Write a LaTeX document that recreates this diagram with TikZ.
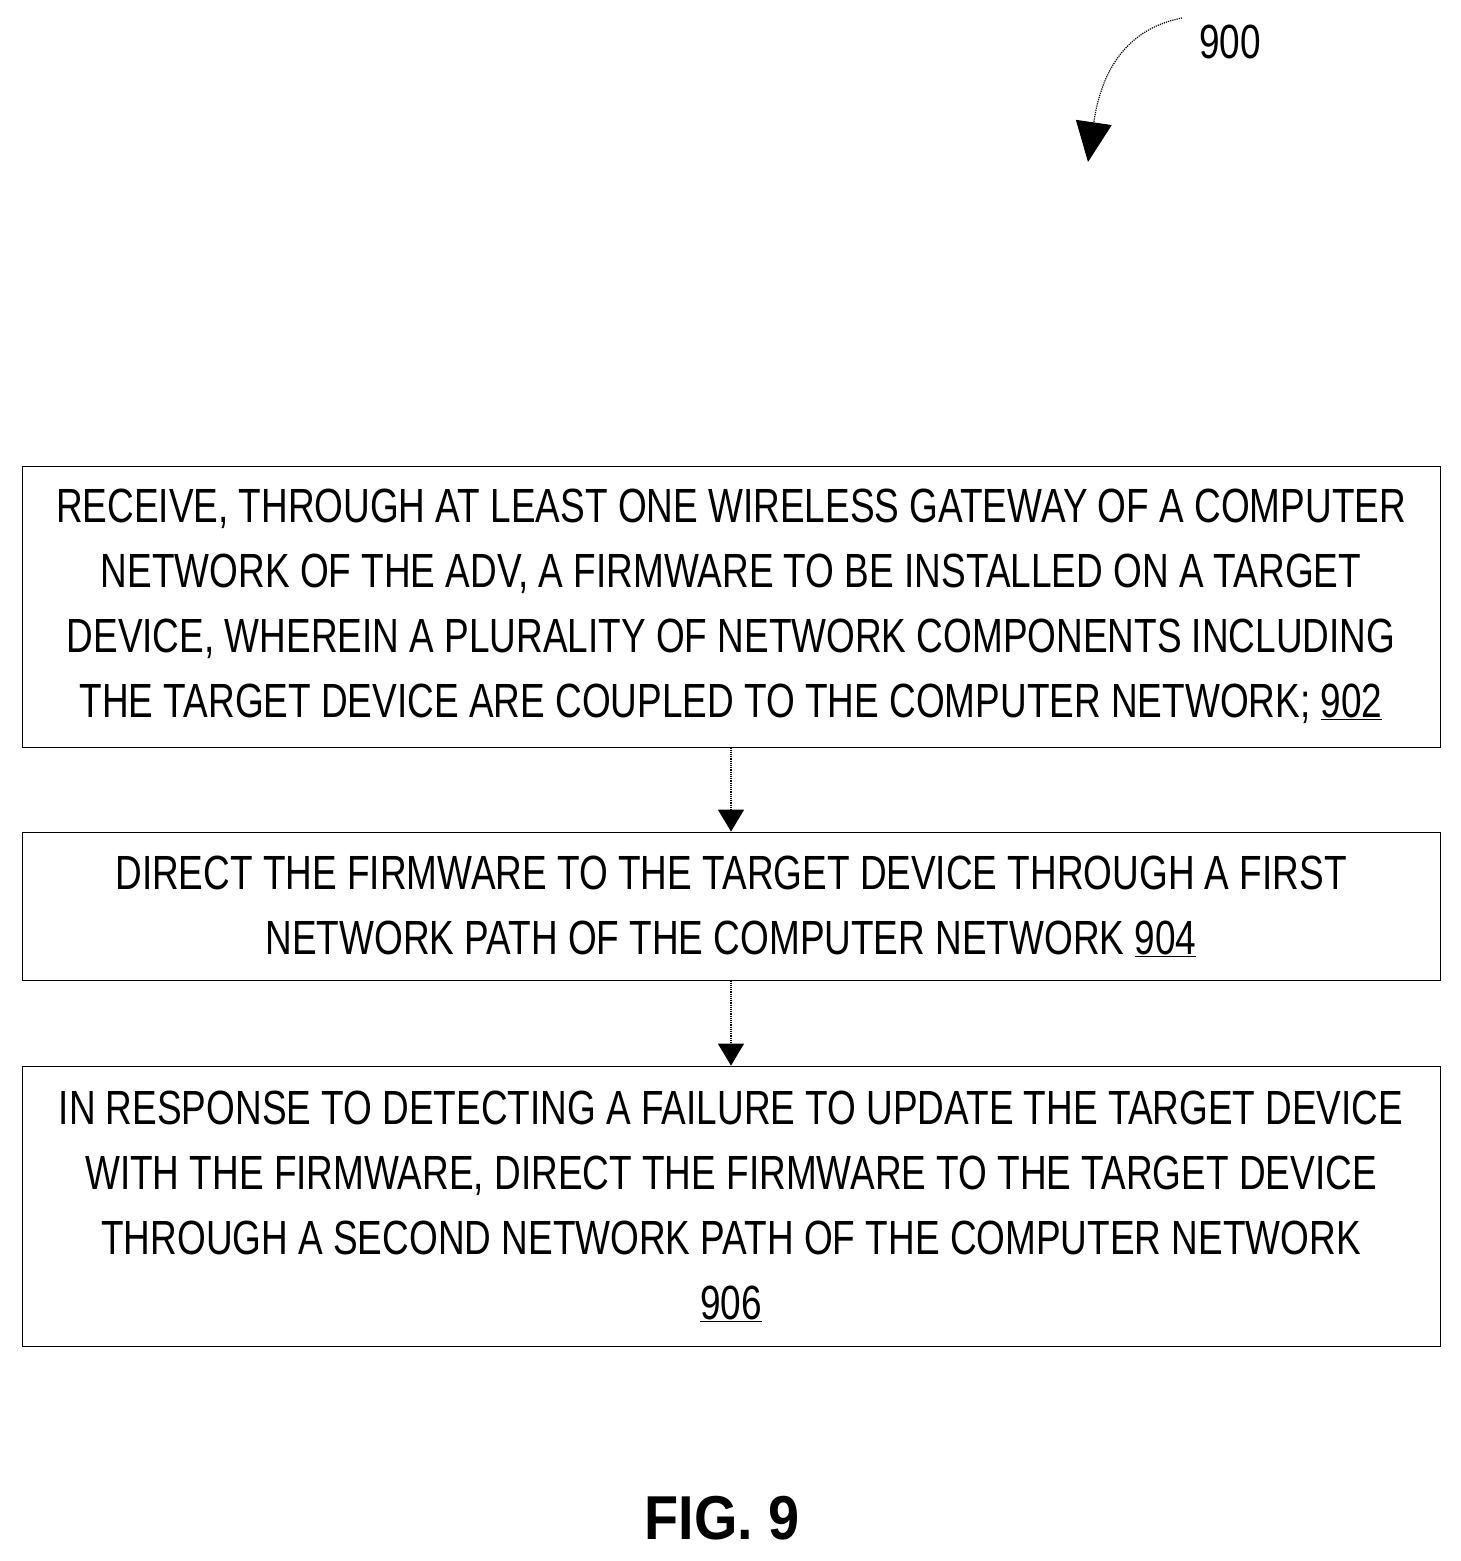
\documentclass[tikz,border=0pt]{standalone}
\usepackage{fontspec}
\setmainfont{Liberation Sans}[FakeStretch=0.77]
\newfontfamily\figfont{Liberation Sans}[FakeStretch=0.9]
\usetikzlibrary{arrows.meta,positioning}
\tikzset{
  flowstep/.style={draw, thick, minimum width=1418pt, align=center,
    font=\fontsize{48}{65}\selectfont, inner sep=0pt},
  flow/.style={-{Triangle[length=22pt,width=26pt]}, very thick, densely dotted}
}
\begin{document}
\begin{tikzpicture}[x=1pt,y=-1pt]
    \useasboundingbox (0,0) rectangle (1461,1561);
    % steps
    \node[flowstep, minimum height=281pt] (s902) at (731,606.5) {RECEIVE, THROUGH AT LEAST ONE WIRELESS GATEWAY OF A COMPUTER\\NETWORK OF THE ADV, A FIRMWARE TO BE INSTALLED ON A TARGET\\DEVICE, WHEREIN A PLURALITY OF NETWORK COMPONENTS INCLUDING\\THE TARGET DEVICE ARE COUPLED TO THE COMPUTER NETWORK; \underline{902}};
    \node[flowstep, minimum height=148pt] (s904) at (731,906) {DIRECT THE FIRMWARE TO THE TARGET DEVICE THROUGH A FIRST\\NETWORK PATH OF THE COMPUTER NETWORK \underline{904}};
    \node[flowstep, minimum height=280pt] (s906) at (731,1206) {IN RESPONSE TO DETECTING A FAILURE TO UPDATE THE TARGET DEVICE\\WITH THE FIRMWARE, DIRECT THE FIRMWARE TO THE TARGET DEVICE\\THROUGH A SECOND NETWORK PATH OF THE COMPUTER NETWORK\\\underline{906}};

    % arrows
    \draw[flow] (s902.south) -- (s904.north);
    \draw[flow] (s904.south) -- (s906.north);

    % reference label
    \node[font=\fontsize{48}{50}\selectfont] (lbl) at (1230,42) {900};
    \coordinate (lblstart) at (1182,18);
    \draw[flow, -{Triangle[length=40pt,width=36pt]}] (lblstart) .. controls (1120,30) and (1100,80) .. (1088,162);

    \node[font=\figfont\fontsize{62}{64}\selectfont\bfseries] (fig) at (722,1518) {FIG. 9};
\end{tikzpicture}
\end{document}
